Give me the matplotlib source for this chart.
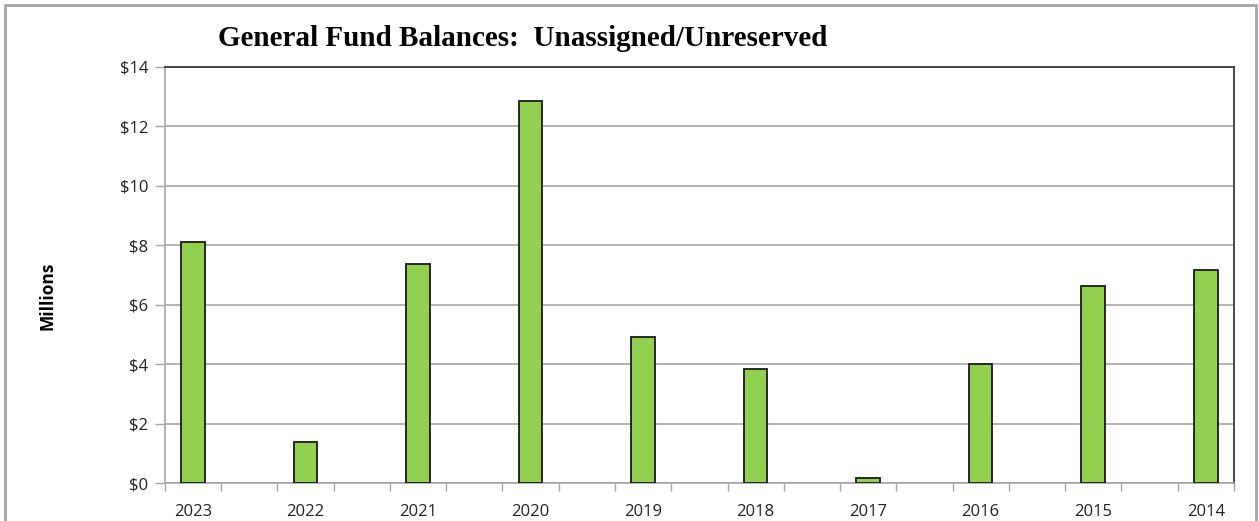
import numpy as np
import matplotlib.pyplot as plt
from matplotlib.patches import Rectangle
from matplotlib.ticker import FuncFormatter

# Fund balances in millions of dollars, newest year first
years = ['2023', '2022', '2021', '2020', '2019', '2018', '2017', '2016', '2015', '2014']
balances = [8.10, 1.40, 7.37, 12.84, 4.92, 3.85, 0.20, 4.00, 6.64, 7.16]

green = '#92D050'
grid_gray = '#A6A6A6'

fig = plt.figure(figsize=(12.59, 5.21), dpi=100)
ax = fig.add_axes([0.131, 0.072, 0.849, 0.800])

# each year gets a slot followed by an empty slot
pos = np.arange(len(years)) * 2
ax.bar(pos, balances, width=0.42, color=green, edgecolor='#1a1a1a',
       linewidth=1.3, zorder=3)

ax.set_xlim(-0.5, 2 * len(years) - 1.5)
ax.set_ylim(0, 14)
ax.set_yticks(np.arange(0, 15, 2))
ax.yaxis.set_major_formatter(FuncFormatter(lambda v, _: f'${v:.0f}'))

ax.set_xticks(pos)
ax.set_xticklabels(years)
ax.set_xticks(np.arange(-0.5, 2 * len(years) - 1, 1.0), minor=True)
ax.tick_params(axis='x', which='major', length=0, pad=15)
ax.tick_params(axis='x', which='minor', length=6, color=grid_gray, width=1)
ax.tick_params(axis='y', length=7, color=grid_gray, width=1, pad=5)
ax.tick_params(labelsize=12, labelcolor='#222222')
for lab in ax.get_xticklabels() + ax.get_yticklabels():
    lab.set_family('Open Sans')

ax.grid(axis='y', color=grid_gray, linewidth=1.2, zorder=0)
ax.set_axisbelow(True)
for side in ['left', 'bottom']:
    ax.spines[side].set_color(grid_gray)
    ax.spines[side].set_linewidth(1.2)
for side in ['top', 'right']:
    ax.spines[side].set_color('#3a3a3a')
    ax.spines[side].set_linewidth(1.3)

fig.text(47 / 1259, 1 - 296 / 521, 'Millions', rotation=90, ha='center',
         va='center', fontsize=12.5, fontweight='bold', family='Open Sans')
fig.text(523 / 1259, 1 - 39 / 521, 'General Fund Balances:  Unassigned/Unreserved',
         ha='center', va='center', fontsize=21, fontweight='bold',
         family='Liberation Serif')

# outer chart frame
fig.patches.append(Rectangle((5 / 1259, -0.05), 1251 / 1259, 1.05 - 5 / 521,
                             transform=fig.transFigure, fill=False,
                             edgecolor='#A6A6A6', linewidth=2))

fig.savefig('out.png', dpi=100)
